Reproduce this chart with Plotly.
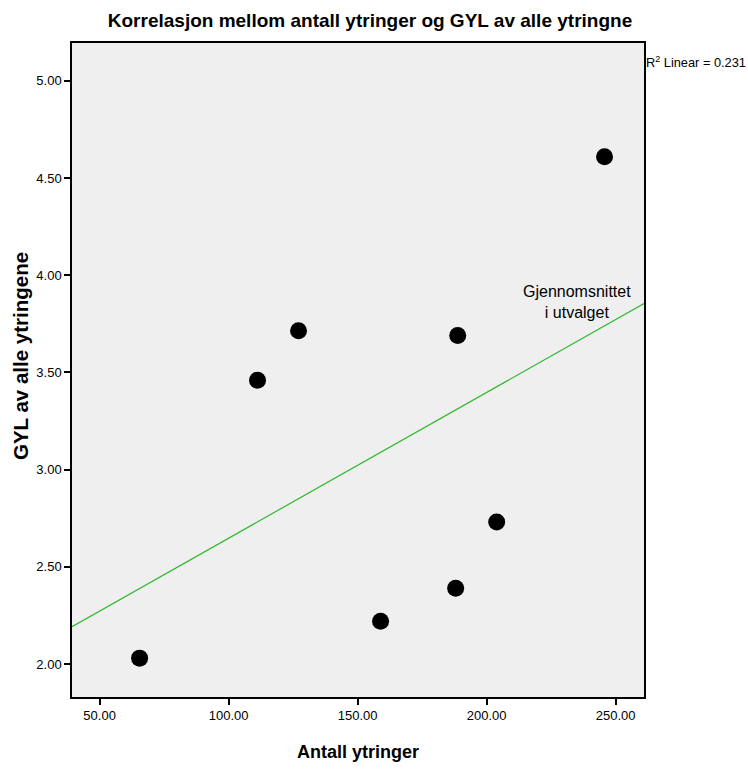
import numpy as np
import plotly.graph_objects as go

antall = [65.5, 111.2, 127.1, 158.9, 188.0, 188.8, 203.9, 245.7]
gyl = [2.03, 3.46, 3.715, 2.22, 2.39, 3.69, 2.73, 4.61]
x_ticks = [50, 100, 150, 200, 250]
y_ticks = [2.0, 2.5, 3.0, 3.5, 4.0, 4.5, 5.0]
x_range = [39.3, 261.0]
y_range = [1.83, 5.195]
r2_label = "0.231"

slope, intercept = np.polyfit(antall, gyl, 1)

font = "Liberation Sans, Arial, sans-serif"

fig = go.Figure()
fig.add_trace(go.Scatter(
    x=x_range, y=[slope * x_range[0] + intercept, slope * x_range[1] + intercept],
    mode="lines", line=dict(color="#2db92d", width=1.2), hoverinfo="skip", showlegend=False))
fig.add_trace(go.Scatter(
    x=antall, y=gyl, mode="markers",
    marker=dict(color="black", size=17, symbol="circle"), showlegend=False))

L, R, T, B = 72, 104, 43, 72
W, H = 748, 769
pw, ph = W - L - R, H - T - B

fig.update_layout(
    width=W, height=H,
    margin=dict(l=L, r=R, t=T, b=B),
    paper_bgcolor="white", plot_bgcolor="#efefef",
    title=dict(text="<b>Korrelasjon mellom antall ytringer og GYL av alle ytringne</b>",
               x=370 / W, xanchor="center", y=1 - 20 / H, yanchor="middle",
               font=dict(family=font, size=19, color="black")),
    font=dict(family=font, size=13, color="black"),
)
fig.update_xaxes(
    range=x_range, tickvals=x_ticks, tickformat=".2f", showgrid=False, zeroline=False,
    showline=True, linecolor="black", linewidth=1.5, mirror=True, automargin=False,
    ticks="outside", ticklen=6, tickwidth=1.5, tickcolor="black",
    tickfont=dict(family=font, size=13))
fig.update_yaxes(
    range=y_range, tickvals=y_ticks, tickformat=".2f", showgrid=False, zeroline=False,
    showline=True, linecolor="black", linewidth=1.5, mirror=True, automargin=False,
    ticks="outside", ticklen=6, tickwidth=1.5, tickcolor="black",
    tickfont=dict(family=font, size=13))

# axis titles
fig.add_annotation(xref="paper", yref="paper", x=0.5, y=-(752 - (T + ph)) / ph,
                   xanchor="center", yanchor="middle", showarrow=False,
                   text="<b>Antall ytringer</b>", font=dict(family=font, size=18, color="black"))
fig.add_annotation(xref="paper", yref="paper", x=-(L - 20) / pw, y=1 - (356 - T) / ph,
                   xanchor="center", yanchor="middle", showarrow=False, textangle=-90,
                   text="<b>GYL av alle ytringene</b>", font=dict(family=font, size=20.5, color="black"))

fig.add_annotation(xref="paper", yref="paper", x=1.0, y=1 - (62 - T) / ph,
                   xanchor="left", yanchor="middle", showarrow=False,
                   text="R<sup>2</sup> Linear = " + r2_label,
                   font=dict(family=font, size=12.8, color="black"))
fig.add_annotation(xref="x", yref="y", x=234.9, y=3.86, xanchor="center", yanchor="middle",
                   showarrow=False, text="Gjennomsnittet<br>i utvalget",
                   font=dict(family=font, size=16, color="black"))

fig.write_html("out.html")
